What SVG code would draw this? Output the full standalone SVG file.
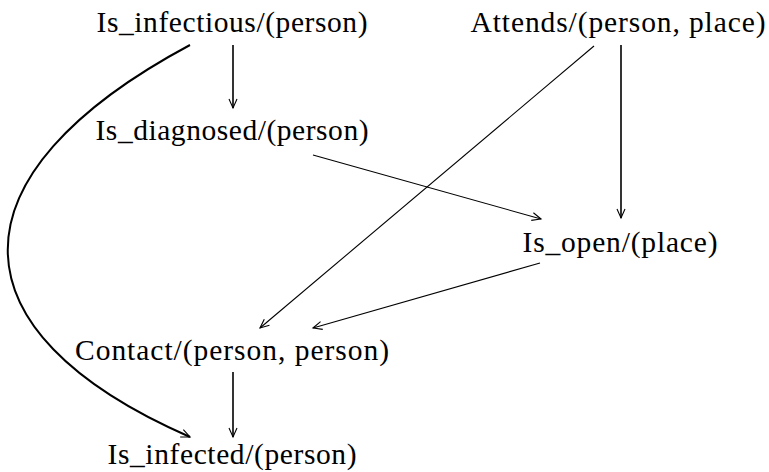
<svg xmlns="http://www.w3.org/2000/svg" width="769" height="472" viewBox="0 0 769 472">
<style>
.t{font-family:'Liberation Serif',serif;font-size:29.5px;fill:#000;text-anchor:middle}
.e{fill:none;stroke:#000;stroke-width:1.1}
.v{fill:none;stroke:#000;stroke-width:1.6}
.c{fill:none;stroke:#000;stroke-width:2}
</style>
<defs>
<marker id="a" viewBox="-10 -5 11 10" refX="0" refY="0" markerWidth="11" markerHeight="10" markerUnits="userSpaceOnUse" orient="auto" overflow="visible">
<path d="M-9,-4 L0,0 L-9,4" fill="none" stroke="#000" stroke-width="1.1"/>
</marker>
</defs>
<rect width="769" height="472" fill="#fff"/>
<g id="n_infectious"><text class="t" x="232" y="32" textLength="271">Is_infectious/(person)</text></g>
<g id="n_attends"><text class="t" x="618" y="32" textLength="295">Attends/(person, place)</text></g>
<g id="n_diagnosed"><text class="t" x="232" y="140" textLength="273">Is_diagnosed/(person)</text></g>
<g id="n_open"><text class="t" x="620" y="252" textLength="195">Is_open/(place)</text></g>
<g id="n_contact"><text class="t" x="232" y="360" textLength="314">Contact/(person, person)</text></g>
<g id="n_infected"><text class="t" x="232" y="464" textLength="249">Is_infected/(person)</text></g>
<g id="edges">
<path class="v" d="M233,45 L233,108" marker-end="url(#a)"/>
<path class="v" d="M621,45 L621,218" marker-end="url(#a)"/>
<path class="e" d="M594,46 L260,328" marker-end="url(#a)"/>
<path class="e" d="M313,155 L541,219" marker-end="url(#a)"/>
<path class="e" d="M540,263 L313,328" marker-end="url(#a)"/>
<path class="v" d="M233,372 L233,437" marker-end="url(#a)"/>
<path class="c" d="M190,45 C-53,175 -53,331 190,437" marker-end="url(#a)"/>
</g>
</svg>
